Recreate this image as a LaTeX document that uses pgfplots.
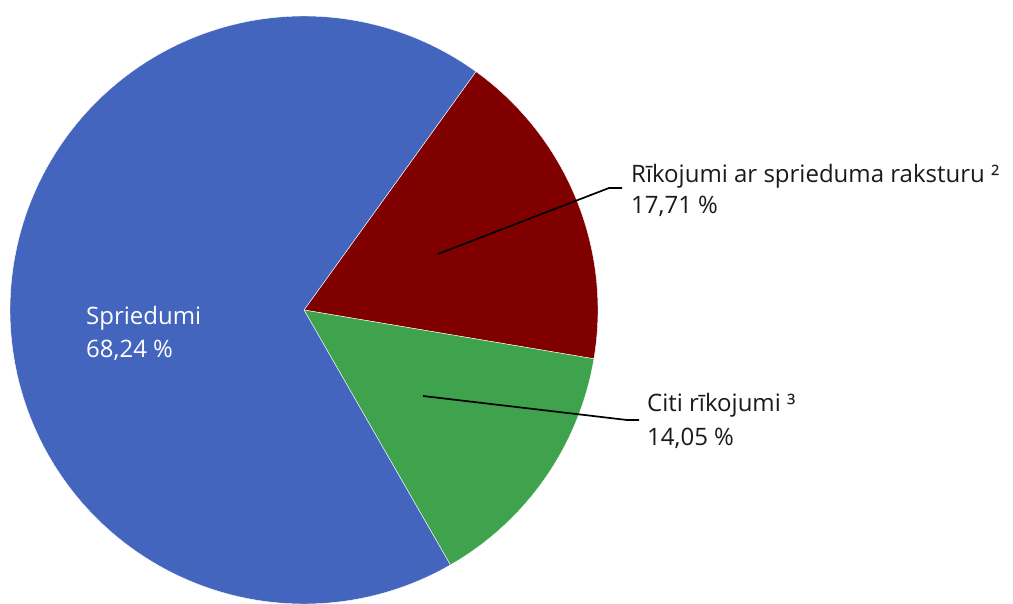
\documentclass[border=0pt]{standalone}
\usepackage{pgfplots}
\pgfplotsset{compat=1.18}
\usepackage{fontspec}
\setmainfont{Open Sans}
\definecolor{cblue}{RGB}{68,101,189}
\definecolor{cred}{RGB}{128,0,0}
\definecolor{cgreen}{RGB}{62,163,76}
\definecolor{ctext}{RGB}{26,26,26}
% shares in percent
\def\vSpr{68.24}
\def\vRik{17.71}
\def\vCit{14.05}
\def\startang{54.2}
\def\cx{304}
\def\cy{293}
\def\rr{294}
\pgfmathsetmacro\aA{\startang}
\pgfmathsetmacro\aB{\aA-3.6*\vRik}
\pgfmathsetmacro\aC{\aB-3.6*\vCit}
\pgfmathsetmacro\aD{\aC-3.6*\vSpr}
\begin{document}
\begin{tikzpicture}
\begin{axis}[name=ax,
  width=1013pt, height=603pt, scale only axis,
  xmin=0, xmax=1013, ymin=0, ymax=603,
  hide axis, clip=true]
\addplot[fill=cred, draw=white, line width=0.4pt, domain=\aB:\aA, samples=120, variable=\t]
  ({\cx+\rr*cos(\t)},{\cy+\rr*sin(\t)}) -- (axis cs:\cx,\cy) -- cycle;
\addplot[fill=cgreen, draw=white, line width=0.4pt, domain=\aC:\aB, samples=120, variable=\t]
  ({\cx+\rr*cos(\t)},{\cy+\rr*sin(\t)}) -- (axis cs:\cx,\cy) -- cycle;
\addplot[fill=cblue, draw=white, line width=0.4pt, domain=\aD:\aC, samples=300, variable=\t]
  ({\cx+\rr*cos(\t)},{\cy+\rr*sin(\t)}) -- (axis cs:\cx,\cy) -- cycle;
% leader lines
\draw[black, line width=1.7pt] (axis cs:438,349) -- (axis cs:609,415) -- (axis cs:622,415);
\draw[black, line width=1.7pt] (axis cs:423,207) -- (axis cs:627,183) -- (axis cs:639,183);
% labels
\node[anchor=base west, inner sep=0pt, text=white, font=\fontsize{24}{28}\selectfont] at (axis cs:86,278) {Spriedumi};
\node[anchor=base west, inner sep=0pt, text=white, font=\fontsize{24}{28}\selectfont] at (axis cs:86,245) {68,24 \%};
\node[anchor=base west, inner sep=0pt, text=ctext, font=\fontsize{24}{28}\selectfont] at (axis cs:631,420) {Rīkojumi ar sprieduma raksturu ²};
\node[anchor=base west, inner sep=0pt, text=ctext, font=\fontsize{24}{28}\selectfont] at (axis cs:631,389) {17,71 \%};
\node[anchor=base west, inner sep=0pt, text=ctext, font=\fontsize{24}{28}\selectfont] at (axis cs:647,191) {Citi rīkojumi ³};
\node[anchor=base west, inner sep=0pt, text=ctext, font=\fontsize{24}{28}\selectfont] at (axis cs:647,157) {14,05 \%};
\end{axis}
\pgfresetboundingbox
\useasboundingbox (ax.south west) rectangle (ax.north east);
\end{tikzpicture}
\end{document}
